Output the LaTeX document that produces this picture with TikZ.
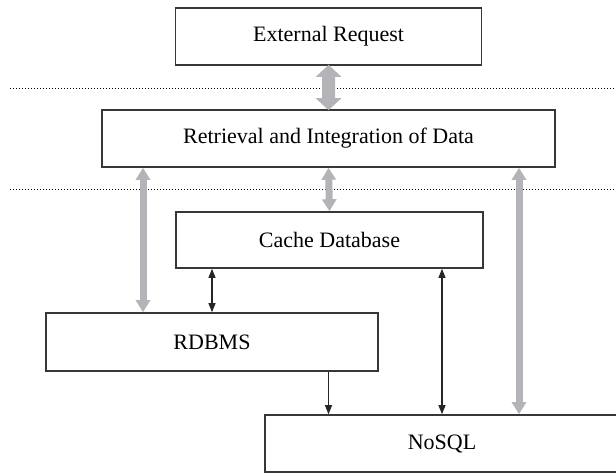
\documentclass[tikz,border=0pt]{standalone}
\usepackage{fontspec}
\setmainfont{Liberation Serif}
\usetikzlibrary{arrows.meta}
\usetikzlibrary{calc}

\definecolor{arrowgray}{RGB}{180,180,184}
\definecolor{boxline}{RGB}{55,55,55}

\tikzset{
	layer/.style={draw=boxline, line width=0.8pt, fill=white, inner sep=0pt, font=\fontsize{11}{13}\selectfont},
	fatlink/.style={draw=arrowgray, line width=6.5pt, {Triangle[width=12.5pt,length=6pt]}-{Triangle[width=12.5pt,length=6pt]}, shorten <=-0.5pt, shorten >=-0.5pt},
	graylink/.style={draw=arrowgray, line width=3.5pt, {Triangle[width=7pt,length=6pt]}-{Triangle[width=7pt,length=6pt]}},
	blacklink/.style={draw=black!85, line width=0.6pt, -{Triangle[width=3.5pt,length=4.5pt]}},
	blackboth/.style={draw=black!85, line width=0.6pt, {Triangle[width=3.5pt,length=4.5pt]}-{Triangle[width=3.5pt,length=4.5pt]}},
	tier/.style={densely dotted, line width=0.5pt}
}

\begin{document}
\begin{tikzpicture}[x=0.5pt,y=-0.5pt]
		\useasboundingbox (0,0) rectangle (616,472);
		\clip (0,0) rectangle (616,472);
		
		\node[layer, minimum width=153pt, minimum height=28.5pt] (ext) at (328.6,36.5) {External Request};
		\node[layer, minimum width=226.5pt, minimum height=28.5pt] (rid) at (328.5,138.5) {Retrieval and Integration of Data};
		\node[layer, minimum width=153.5pt, minimum height=28pt] (cache) at (329.5,240) {Cache Database};
		\node[layer, minimum width=166pt, minimum height=29pt] (rdbms) at (212,342) {RDBMS};
		\node[layer, minimum width=177pt, minimum height=28.5pt] (nosql) at (442,443.5) {NoSQL};
		
		% tier separators
		\coordinate (sepA) at (10,88);
		\coordinate (sepB) at (10,189);
		\draw[tier] (sepA) -- (sepA -| 616,0);
		\draw[tier] (sepB) -- (sepB -| 616,0);
		
		\coordinate (left) at (143,0);
		\coordinate (right) at (519,0);
		
		\draw[fatlink] (ext.south) -- (rid.north);
		
		\draw[graylink] (rid.south -| left) -- (rdbms.north -| left);
		\draw[graylink] (rid.south) -- (cache.north);
		\draw[graylink] (rid.south -| right) -- (nosql.north -| right);
		
		\draw[blackboth] (cache.south -| rdbms.north) -- (rdbms.north);
		\draw[blacklink] (rdbms.south -| rid.south) -- (nosql.north -| rid.south);
		\draw[blackboth] (cache.south -| nosql.north) -- (nosql.north);
		
	\end{tikzpicture}
\end{document}
